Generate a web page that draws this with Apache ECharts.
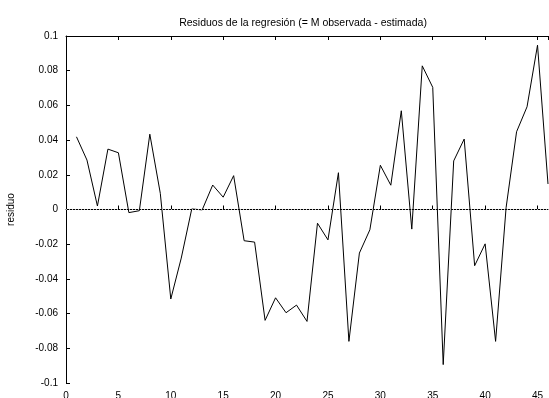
<!DOCTYPE html>
<html>
<head>
<meta charset="utf-8">
<script src="https://cdn.jsdelivr.net/npm/echarts@6/dist/echarts.min.js"></script>
<style>html,body{margin:0;padding:0;background:#fff}#c{width:549px;height:398px}</style>
</head>
<body>
<div id="c"></div>
<script>
const obs = [1,2,3,4,5,6,7,8,9,10,11,12,13,14,15,16,17,18,19,20,21,22,23,24,25,26,27,28,29,30,31,32,33,34,35,36,37,38,39,40,41,42,43,44,45,46];
const residuo = [0.0419,0.0285,0.0020,0.0348,0.0327,-0.0018,-0.0007,0.0434,0.0093,-0.0516,
  -0.0280,0.0003,-0.0002,0.0141,0.0071,0.0195,-0.0180,-0.0188,-0.0639,-0.0509,
  -0.0595,-0.0551,-0.0645,-0.0079,-0.0175,0.0212,-0.0760,-0.0251,-0.0117,0.0255,
  0.0140,0.0569,-0.0113,0.0828,0.0704,-0.0894,0.0280,0.0406,-0.0324,-0.0198,
  -0.0760,0.0010,0.0448,0.0592,0.0947,0.0147];
const title = 'Residuos de la regresión (= M observada - estimada)';
const yName = 'residuo';

const font = 'Liberation Sans, Arial, sans-serif';
const chart = echarts.init(document.getElementById('c'), null, {renderer:'canvas'});
const pts = obs.map((x,i)=>[x, residuo[i]]);
chart.setOption({
  animation:false,
  backgroundColor:'#fff',
  title:{text:title,left:298,top:13,textAlign:'center',
    textStyle:{fontFamily:font,fontSize:10.5,fontWeight:'normal',color:'#000'}},
  grid:{left:66,right:1,top:36,bottom:15,containLabel:false,outerBoundsMode:'none'},
  xAxis:[{type:'value',min:0,max:46,interval:5,position:'bottom',
    axisLine:{lineStyle:{color:'#000',width:1}},
    axisTick:{inside:true,length:4,lineStyle:{color:'#000'}},
    axisLabel:{color:'#000',fontFamily:font,fontSize:10,margin:8,showMaxLabel:false},
    splitLine:{show:false}},
   {type:'value',min:0,max:46,interval:5,position:'top',
    axisLine:{lineStyle:{color:'#000',width:1}},
    axisTick:{inside:true,length:4,lineStyle:{color:'#000'},
      interval:(i,v)=>v<46},
    axisLabel:{show:false},splitLine:{show:false}}],
  yAxis:{type:'value',min:-0.1,max:0.1,interval:0.02,
    name:yName,nameLocation:'middle',nameGap:50,nameRotate:90,
    nameTextStyle:{color:'#000',fontFamily:font,fontSize:10},
    axisLine:{lineStyle:{color:'#000',width:1}},
    axisTick:{inside:true,length:4,lineStyle:{color:'#000'}},
    axisLabel:{color:'#000',fontFamily:font,fontSize:10,margin:8,
      formatter:v=>{const r=Math.round(v*100)/100; return r===0?'0':String(r);}},
    splitLine:{show:false}},
  series:[{type:'line',data:pts,symbol:'none',
    lineStyle:{color:'#000',width:1},
    markLine:{silent:true,symbol:'none',label:{show:false},
      lineStyle:{color:'#bbb',type:[1,2],width:1},
      data:[{yAxis:0}]}}]
});
</script>
</body>
</html>
